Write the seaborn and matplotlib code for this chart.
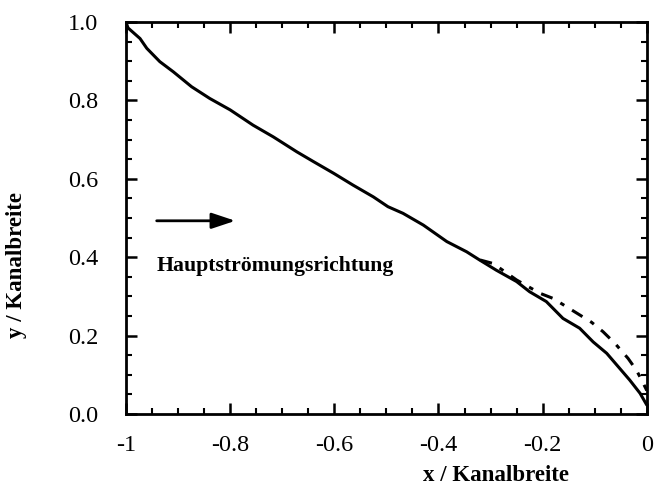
import matplotlib
matplotlib.use("Agg")
import matplotlib.pyplot as plt
from matplotlib.ticker import MultipleLocator
import numpy as np
import pandas as pd
import seaborn as sns

# Stromlinie ohne Einbau (durchgezogen)
x_solid = [-1.000, -0.996, -0.973, -0.960, -0.935, -0.909, -0.874, -0.839, -0.800,
           -0.756, -0.717, -0.672, -0.640, -0.601, -0.564, -0.525, -0.497, -0.468,
           -0.429, -0.384, -0.346, -0.321, -0.289, -0.250, -0.225, -0.193, -0.161,
           -0.129, -0.103, -0.077, -0.055, -0.033, -0.013, 0.000]
y_solid = [1.000, 0.985, 0.958, 0.933, 0.899, 0.873, 0.835, 0.805, 0.776,
           0.737, 0.707, 0.669, 0.644, 0.614, 0.584, 0.554, 0.529, 0.512,
           0.482, 0.440, 0.414, 0.393, 0.367, 0.338, 0.312, 0.287, 0.244,
           0.219, 0.184, 0.155, 0.121, 0.087, 0.053, 0.023]

# Stromlinie mit Einbau (gestrichelt), weicht ab x = -0.3 ab
x_dash = [-0.320, -0.295, -0.250, -0.205, -0.180, -0.129, -0.106, -0.084,
          -0.061, -0.036, -0.020, -0.010, 0.000]
y_dash = [0.393, 0.384, 0.342, 0.308, 0.295, 0.253, 0.234, 0.210,
          0.180, 0.142, 0.112, 0.087, 0.060]

x_ticks = [-1, -0.8, -0.6, -0.4, -0.2, 0]
x_ticklabels = ["-1", "-0.8", "-0.6", "-0.4", "-0.2", "0"]
y_ticks = [0.0, 0.2, 0.4, 0.6, 0.8, 1.0]
y_ticklabels = ["0.0", "0.2", "0.4", "0.6", "0.8", "1.0"]

sns.set_theme(style="ticks")
plt.rcParams["font.family"] = ["Liberation Serif", "DejaVu Serif"]

df_solid = pd.DataFrame({"x": x_solid, "y": y_solid})
df_dash = pd.DataFrame({"x": x_dash, "y": y_dash})

fig = plt.figure(figsize=(6.56, 4.90), dpi=100)
ax = fig.add_axes([0.192, 0.155, 0.794, 0.800])

sns.lineplot(data=df_solid, x="x", y="y", ax=ax, color="black", linewidth=2.2,
             sort=False, estimator=None)
sns.lineplot(data=df_dash, x="x", y="y", ax=ax, color="black", linewidth=2.2,
             sort=False, estimator=None)
ax.lines[-1].set_dashes([4, 3, 1.5, 3])

ax.set_xlim(-1, 0)
ax.set_ylim(0, 1)
ax.set_xticks(x_ticks)
ax.set_xticklabels(x_ticklabels)
ax.set_yticks(y_ticks)
ax.set_yticklabels(y_ticklabels)
ax.xaxis.set_minor_locator(MultipleLocator(0.05))
ax.yaxis.set_minor_locator(MultipleLocator(0.05))

ax.tick_params(which="major", direction="in", length=8, width=1.8,
               top=True, right=True, labelsize=17.5, color="black",
               labelcolor="black")
ax.tick_params(axis="x", which="major", pad=15)
ax.tick_params(axis="y", which="major", pad=20)
ax.tick_params(which="minor", direction="in", length=4, width=1.5,
               top=True, right=True, color="black")
for sp in ax.spines.values():
    sp.set_visible(True)
    sp.set_linewidth(2.0)
    sp.set_color("black")

ax.set_xlabel("x / Kanalbreite", fontsize=16.5, fontweight="bold", color="black")
ax.set_ylabel("y / Kanalbreite", fontsize=16.5, fontweight="bold", color="black")
ax.xaxis.set_label_coords(0.710, -0.130)
ax.yaxis.set_label_coords(-0.190, 0.380)

# Pfeil für die Hauptströmungsrichtung
ax.annotate("", xy=(-0.790, 0.493), xytext=(-0.941, 0.493),
            arrowprops=dict(arrowstyle="-|>,head_length=1.2,head_width=0.4",
                            color="black", lw=2.0, shrinkA=0, shrinkB=0))
ax.text(-0.941, 0.378, "Hauptströmungsrichtung", fontsize=15.7, fontweight="bold",
        ha="left", va="center", color="black")

fig.savefig("out.png", dpi=100)
